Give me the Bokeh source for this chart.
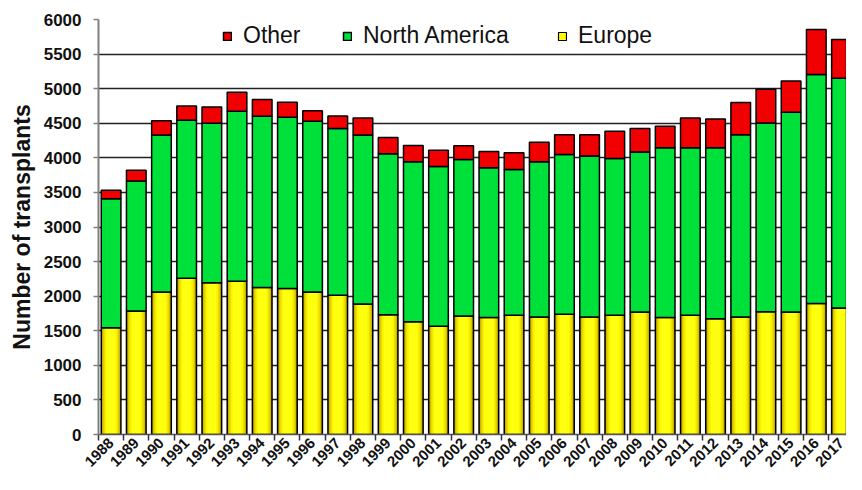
import numpy as np
from math import pi
from bokeh.plotting import figure
from bokeh.models import ColumnDataSource, Range1d, FixedTicker, SingleIntervalTicker, Legend, LegendItem
from bokeh.embed import file_html
from bokeh.resources import INLINE

years = [str(y) for y in range(1988, 2018)]
europe = [1545, 1785, 2060, 2260, 2195, 2215, 2125, 2110, 2060, 2015, 1885, 1730, 1630,
          1565, 1715, 1690, 1725, 1700, 1740, 1700, 1725, 1770, 1690, 1725, 1675, 1700,
          1775, 1770, 1895, 1830]
north_america = [1865, 1880, 2270, 2285, 2305, 2460, 2475, 2475, 2470, 2410, 2445, 2330, 2315,
                 2310, 2260, 2165, 2105, 2245, 2310, 2325, 2265, 2315, 2455, 2420, 2470, 2635,
                 2730, 2890, 3310, 3320]
other = [120, 155, 205, 205, 235, 275, 245, 220, 150, 180, 245, 235, 235,
         235, 200, 235, 245, 280, 285, 310, 395, 340, 310, 430, 415, 465,
         485, 450, 650, 560]

FONT = "Liberation Sans"

x = np.arange(len(years))
e = np.array(europe, dtype=float)
na = np.array(north_america, dtype=float)
o = np.array(other, dtype=float)
src = ColumnDataSource(dict(x=x, e0=np.zeros(len(x)), e1=e, n1=e + na, o1=e + na + o))

p = figure(width=846, height=474, output_backend="svg", toolbar_location=None,
           x_range=Range1d(-0.5, 29.2), y_range=Range1d(0, 6000),
           min_border_left=98, min_border_right=0, min_border_top=19, min_border_bottom=30)
p.outline_line_color = None
p.background_fill_color = "white"
p.border_fill_color = "white"

W = 0.78
# Europe: shaded cylinder look via layered bars
shades = [(0.78, "#9C8400"), (0.72, "#C2AA00"), (0.66, "#DAC600"), (0.58, "#ECDF00"),
          (0.48, "#F8F300"), (0.36, "#FFFF10")]
for w, c in shades:
    p.vbar(x="x", bottom="e0", top="e1", width=w, source=src, fill_color=c, line_color=None)
p.vbar(x="x", bottom="e0", top="e1", width=W, source=src, fill_alpha=0,
       line_color="black", line_width=1.5)
eu_leg = p.vbar(x="x", bottom="e0", top="e1", width=W, source=src, fill_color="#FFFF00",
                line_color="black", line_width=1.2)
eu_leg.visible = False

na_r = p.vbar(x="x", bottom="e1", top="n1", width=W, source=src, fill_color="#00E03A",
              line_color="black", line_width=1.5)
ot_r = p.vbar(x="x", bottom="n1", top="o1", width=W, source=src, fill_color="#F00000",
              line_color="black", line_width=1.5)

# axes
xa = p.xaxis[0]
xa.ticker = FixedTicker(ticks=list(range(len(years))),
                        minor_ticks=[i - 0.5 for i in range(len(years) + 1)])
xa.major_label_overrides = {i: y for i, y in enumerate(years)}
xa.major_tick_line_color = None
xa.major_tick_out = 0
xa.major_tick_in = 0
xa.minor_tick_line_color = "#333344"
xa.minor_tick_line_width = 1.5
xa.minor_tick_out = 6
xa.minor_tick_in = 0
xa.axis_line_color = "#555555"
xa.axis_line_width = 1.5
xa.major_label_orientation = pi / 4
xa.major_label_standoff = 0
xa.major_label_text_font = FONT
xa.major_label_text_font_style = "bold"
xa.major_label_text_font_size = "15px"
xa.major_label_text_color = "#111111"

ya = p.yaxis[0]
ya.ticker = SingleIntervalTicker(interval=500)
ya.minor_tick_line_color = None
ya.axis_line_color = "#808080"
ya.axis_line_width = 2
ya.major_tick_line_color = "#808080"
ya.major_tick_line_width = 1.5
ya.major_tick_out = 5
ya.major_tick_in = 0
ya.major_label_standoff = 12
ya.major_label_text_font = FONT
ya.major_label_text_font_style = "bold"
ya.major_label_text_font_size = "17px"
ya.major_label_text_color = "#111111"
ya.axis_label = "Number of transplants"
ya.axis_label_text_font = FONT
ya.axis_label_text_font_style = "bold"
ya.axis_label_text_font_size = "23px"
ya.axis_label_text_color = "#111111"
ya.axis_label_standoff = 6

p.xgrid.grid_line_color = None
p.ygrid.grid_line_color = "#222222"
p.ygrid.grid_line_width = 1.4
p.ygrid.ticker = ya.ticker

def add_legend(label, rend, xpos):
    lg = Legend(items=[LegendItem(label=label, renderers=[rend])], location=(xpos, 385),
                orientation="horizontal", padding=0, margin=0, spacing=0,
                glyph_width=10, glyph_height=10, label_standoff=11,
                label_text_font=FONT, label_text_font_size="23px", label_text_color="#111111",
                border_line_color=None, background_fill_alpha=0,
                inactive_fill_alpha=0)
    p.add_layout(lg, "center")

add_legend("Other", ot_r, 124)
add_legend("North America", na_r, 244)
add_legend("Europe", eu_leg, 459)

open("out.html", "w").write(file_html(p, INLINE))
